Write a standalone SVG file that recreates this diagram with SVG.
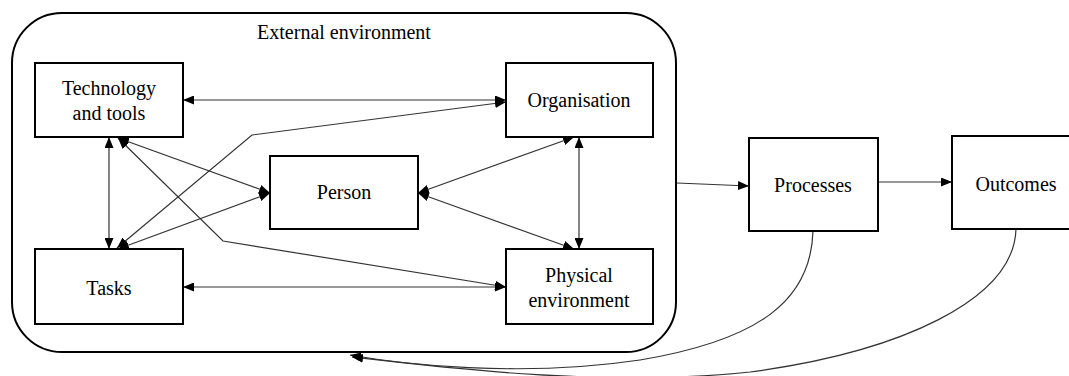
<svg xmlns="http://www.w3.org/2000/svg" width="1069" height="376" viewBox="0 0 1069 376">
<defs>
<marker id="ah" markerUnits="userSpaceOnUse" markerWidth="11" markerHeight="9" refX="11" refY="4.5" orient="auto-start-reverse">
<path d="M0,0 L11,4.5 L0,9 z" fill="#000"/>
</marker>
<style>
.box{fill:#fff;stroke:#000;stroke-width:2}
.env{fill:none;stroke:#000;stroke-width:2}
.t{font-family:'Liberation Serif','DejaVu Serif',serif;font-size:20px;fill:#000;text-anchor:middle}
.c{fill:none;stroke:#333;stroke-width:1.2}
.bi{marker-start:url(#ah);marker-end:url(#ah)}
.un{marker-end:url(#ah)}
</style>
</defs>
<rect width="1069" height="376" fill="#fff"/>
<g id="external-environment">
<rect class="env" x="12" y="13" width="664" height="339" rx="50" ry="50"/>
<text class="t" font-family="Liberation Serif, serif" x="344" y="39">External environment</text>
</g>
<g id="connectors">
<path class="c bi" d="M183,100 L506,100"/>
<path class="c bi" d="M506,102 L252,135 L117,248"/>
<path class="c bi" d="M109,137 L109,249"/>
<path class="c bi" d="M118,138 L270,193"/>
<path class="c bi" d="M118,249 L270,193"/>
<path class="c bi" d="M118,138 L223,241 L506,287"/>
<path class="c bi" d="M183,287 L506,287"/>
<path class="c bi" d="M418,193 L574,137"/>
<path class="c bi" d="M418,193 L574,249"/>
<path class="c bi" d="M579,137 L579,249"/>
<path class="c un" d="M677,183 L749,186"/>
<path class="c un" d="M878,182 L952,182"/>
<path class="c un" d="M813,231 C811,300 760,340 640,360 C520,378 400,364 350,355"/>
<path class="c un" d="M1016,229 C1014,300 900,352 750,372 C600,388 430,366 352,357"/>
</g>
<g id="technology-and-tools">
<rect class="box" x="35" y="63" width="148" height="74"/>
<text class="t" font-family="Liberation Serif, serif" x="109" y="95">Technology</text>
<text class="t" font-family="Liberation Serif, serif" x="109" y="120">and tools</text>
</g>
<g id="organisation">
<rect class="box" x="506" y="63" width="147" height="74"/>
<text class="t" font-family="Liberation Serif, serif" x="579" y="107">Organisation</text>
</g>
<g id="person">
<rect class="box" x="270" y="156" width="148" height="73"/>
<text class="t" font-family="Liberation Serif, serif" x="344" y="199">Person</text>
</g>
<g id="tasks">
<rect class="box" x="35" y="249" width="148" height="75"/>
<text class="t" font-family="Liberation Serif, serif" x="109" y="295">Tasks</text>
</g>
<g id="physical-environment">
<rect class="box" x="506" y="249" width="147" height="75"/>
<text class="t" font-family="Liberation Serif, serif" x="579" y="282">Physical</text>
<text class="t" font-family="Liberation Serif, serif" x="579" y="307">environment</text>
</g>
<g id="processes">
<rect class="box" x="749" y="138" width="129" height="93"/>
<text class="t" font-family="Liberation Serif, serif" x="813" y="192">Processes</text>
</g>
<g id="outcomes">
<rect class="box" x="952" y="136" width="128" height="93"/>
<text class="t" font-family="Liberation Serif, serif" x="1016" y="191">Outcomes</text>
</g>
</svg>
